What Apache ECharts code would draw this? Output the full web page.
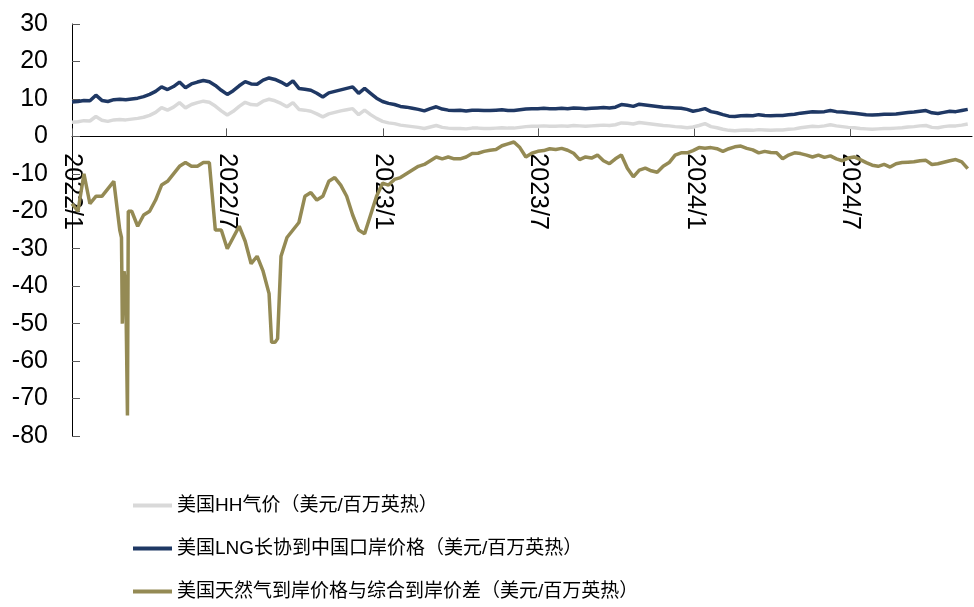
<!DOCTYPE html>
<html>
<head>
<meta charset="utf-8">
<script src="https://cdn.jsdelivr.net/npm/echarts@6/dist/echarts.min.js"></script>
<style>html,body{margin:0;padding:0;background:#fff}#c{width:974px;height:607px}</style>
</head>
<body>
<div id="c"></div>
<script>
// Weekly observation dates start here (one value per week in each series below)
const startDate = '2022-01-01';
const endDate = '2024-11-21';
const tickDates = ['2022-01-01','2022-07-01','2023-01-01','2023-07-01','2024-01-01','2024-07-01'];
const seriesNames = ['美国HH气价（美元/百万英热）','美国LNG长协到中国口岸价格（美元/百万英热）','美国天然气到岸价格与综合到岸价差（美元/百万英热）'];

const hh = [3.8,3.9,4.2,4.1,5.3,4.3,4.0,4.4,4.5,4.4,4.6,4.8,5.1,5.6,6.4,7.7,7.0,7.8,9.0,7.6,
8.5,9.0,9.4,9.1,8.1,6.8,5.7,6.7,8.0,9.1,8.5,8.4,9.4,9.9,9.5,8.8,7.9,9.0,7.2,7.0,
6.7,6.0,5.2,6.0,6.4,6.8,7.1,7.4,5.8,7.0,5.8,4.8,4.0,3.6,3.4,3.0,2.8,2.6,2.4,2.1,
2.5,2.9,2.4,2.2,2.1,2.1,2.0,2.2,2.2,2.1,2.1,2.2,2.3,2.2,2.2,2.4,2.6,2.7,2.7,2.8,
2.7,2.7,2.8,2.7,2.9,2.8,2.7,2.8,2.9,3.0,2.9,3.1,3.6,3.5,3.3,3.7,3.5,3.3,3.1,2.9,
2.8,2.6,2.5,2.3,2.5,2.9,3.4,2.6,2.3,1.9,1.6,1.5,1.6,1.7,1.6,1.8,1.7,1.6,1.7,1.7,
1.9,2.0,2.3,2.5,2.7,2.6,2.8,3.1,2.8,2.6,2.4,2.3,2.1,2.0,1.9,2.0,2.1,2.1,2.2,2.3,
2.5,2.6,2.8,2.9,2.4,2.3,2.6,2.8,2.8,3.0,3.3];

const lng = [9.2,9.3,9.6,9.5,11.0,9.6,9.3,9.8,9.9,9.8,10.0,10.2,10.6,11.2,12.0,13.2,12.5,13.3,14.5,13.0,
14.0,14.5,14.9,14.6,13.6,12.3,11.2,12.2,13.5,14.6,14.0,13.9,15.0,15.6,15.2,14.5,13.6,14.8,12.8,12.6,
12.3,11.5,10.5,11.6,12.0,12.4,12.8,13.2,11.5,12.8,11.5,10.2,9.3,8.8,8.5,8.0,7.8,7.5,7.2,6.8,
7.4,7.9,7.3,7.0,6.9,7.0,6.8,7.0,7.0,6.9,6.9,7.0,7.1,6.9,6.9,7.1,7.3,7.4,7.4,7.5,
7.4,7.4,7.5,7.4,7.6,7.5,7.4,7.5,7.6,7.7,7.6,7.8,8.5,8.3,8.0,8.6,8.4,8.2,8.0,7.8,
7.7,7.6,7.5,7.2,6.7,7.0,7.4,6.6,6.3,5.8,5.4,5.3,5.5,5.6,5.5,5.8,5.6,5.5,5.6,5.6,
5.8,5.9,6.2,6.4,6.6,6.5,6.6,6.9,6.6,6.5,6.3,6.2,6.0,5.8,5.7,5.8,5.9,5.9,6.0,6.2,
6.4,6.5,6.7,6.9,6.3,6.1,6.4,6.7,6.6,6.9,7.2];

const spread = [-18,-20,-10,-18,-16,-16,-14,-12,-25,-40,-20,-24,-21,-20,-17,-13,-12,-10,-8,-7,
-8,-8,-7,-7,-25,-25,-30,-27,-24,-28,-34,-32,-36,-42,-55,-32,-27,-25,-23,-16,
-15,-17,-16,-12,-11,-13,-16,-21,-25,-26,-21,-16,-12.5,-13,-11.5,-11,-10,-9,-8,-7.5,
-6.5,-5.5,-6,-5.5,-6,-6,-5.5,-4.6,-4.5,-4,-3.7,-3.5,-2.5,-2,-1.5,-3,-5.5,-4.5,-4,-3.8,
-3.3,-3.5,-3.2,-3.7,-4.5,-6.2,-5.5,-5.8,-5,-6.5,-7.3,-6,-5,-8.5,-10.8,-9,-8.5,-9.2,-9.6,-8,
-7,-5,-4.4,-4.4,-3.8,-3,-3.2,-3,-3.3,-4,-3.3,-2.8,-2.6,-3.2,-3.6,-4.4,-4,-4.3,-4.4,-6,
-5,-4.4,-4.6,-5,-5.5,-5,-5.6,-5.2,-6,-6.5,-5.8,-5.5,-6.2,-7,-7.7,-8,-7.5,-8.2,-7.3,-7,
-6.9,-6.8,-6.5,-6.4,-7.5,-7.3,-6.9,-6.5,-6.2,-6.8,-8.6];

// Extra daily readings of the spread around its two sharp dips
const spreadExtraDates = ['2022-02-28','2022-03-01','2022-03-03','2022-03-07','2022-03-08','2022-08-23','2022-08-30'];
const spreadExtraVals = [-27,-50,-36,-74.5,-20,-55,-54];

function weekDate(i){
  const d = new Date(startDate + 'T00:00:00');
  d.setDate(d.getDate() + 7*i);
  return d.getFullYear() + '-' + String(d.getMonth()+1).padStart(2,'0') + '-' + String(d.getDate()).padStart(2,'0');
}
const weeks = hh.map((_, i) => weekDate(i));
const ts = s => new Date(s + 'T00:00:00').getTime();

const hhData = weeks.map((d, i) => [ts(d), hh[i]]);
const lngData = weeks.map((d, i) => [ts(d), lng[i]]);
const spreadData = weeks.map((d, i) => [ts(d), spread[i]])
  .concat(spreadExtraDates.map((d, i) => [ts(d), spreadExtraVals[i]]))
  .sort((a, b) => a[0] - b[0]);

const tickVals = tickDates.map(ts);
const FONT = '"Liberation Sans", Arial, "Noto Sans CJK SC", sans-serif';

const Y_MIN = -80, Y_MAX = 30;
const GRID_TOP = 24, GRID_BOTTOM = 171, H = 607;
const plotH = H - GRID_TOP - GRID_BOTTOM;
// shift x axis up so it sits on the y = 0 line
const zeroOffset = -plotH * (0 - Y_MIN) / (Y_MAX - Y_MIN);

const chart = echarts.init(document.getElementById('c'), null, {renderer: 'canvas'});
chart.setOption({
  animation: false,
  backgroundColor: '#fff',
  grid: {left: 72, right: 2, top: GRID_TOP, bottom: GRID_BOTTOM, containLabel: false},
  legend: {
    orient: 'vertical', left: 128, top: 491, itemGap: 24,
    icon: 'rect', itemWidth: 39, itemHeight: 4,
    textStyle: {fontSize: 19, color: '#000', fontFamily: FONT},
    data: seriesNames
  },
  xAxis: {
    type: 'value', min: ts(startDate), max: ts(endDate), position: 'bottom', offset: zeroOffset,
    axisLine: {onZero: false, lineStyle: {color: '#000', width: 1}},
    axisTick: {show: true, inside: true, length: 8, customValues: tickVals, lineStyle: {color: '#595959'}},
    axisLabel: {
      customValues: tickVals, rotate: -90, margin: 17, fontSize: 25, color: '#000', fontFamily: FONT,
      formatter: v => { const d = new Date(v); return d.getFullYear() + '/' + (d.getMonth()+1); }
    },
    splitLine: {show: false}
  },
  yAxis: {
    type: 'value', min: Y_MIN, max: Y_MAX, interval: 10,
    axisLine: {show: true, lineStyle: {color: '#000', width: 1}},
    axisTick: {show: true, inside: true, length: 8, lineStyle: {color: '#595959'}},
    axisLabel: {fontSize: 25, color: '#000', margin: 24, fontFamily: FONT},
    splitLine: {show: false}
  },
  series: [
    {name: seriesNames[0], type: 'line', data: hhData, showSymbol: false, symbol: 'none',
     lineStyle: {color: '#D9D9D9', width: 3.5}, itemStyle: {color: '#D9D9D9'}, z: 2},
    {name: seriesNames[1], type: 'line', data: lngData, showSymbol: false, symbol: 'none',
     lineStyle: {color: '#1F3864', width: 3.5}, itemStyle: {color: '#1F3864'}, z: 3},
    {name: seriesNames[2], type: 'line', data: spreadData, showSymbol: false, symbol: 'none',
     lineStyle: {color: '#948A54', width: 3.5}, itemStyle: {color: '#948A54'}, z: 4}
  ]
});
</script>
</body>
</html>
